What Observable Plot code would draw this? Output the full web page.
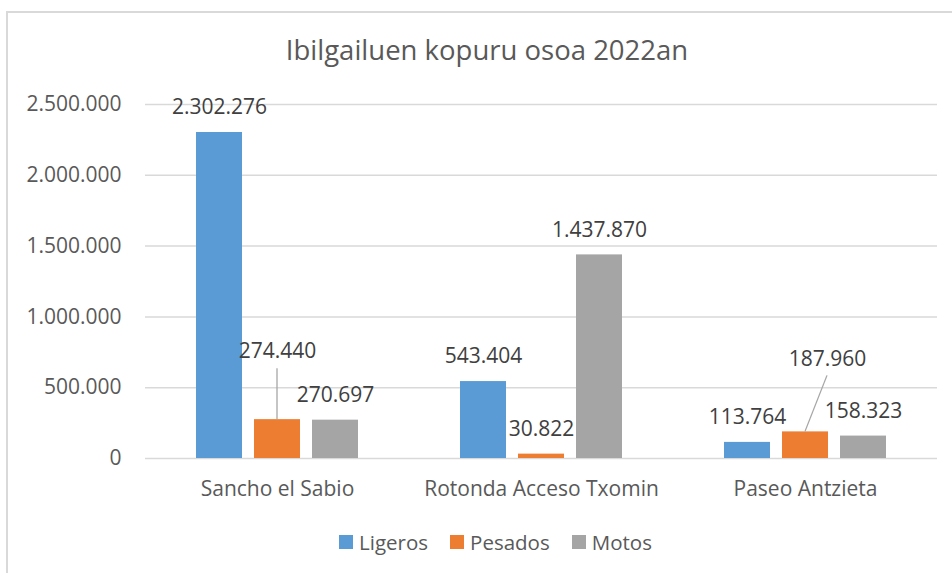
<!DOCTYPE html>
<html><head><meta charset="utf-8">
<script src="https://cdn.jsdelivr.net/npm/d3@7"></script>
<script src="https://cdn.jsdelivr.net/npm/@observablehq/plot@0.6"></script>
<style>
body{margin:0;background:#fff;font-family:"Open Sans",sans-serif;}
#wrap{position:relative;width:952px;height:573px;overflow:hidden;background:#fff;}
#frame{position:absolute;left:6px;top:11px;width:2000px;height:2000px;border-left:2px solid #d9d9d9;border-top:2px solid #d9d9d9;box-sizing:border-box;}
#chart{position:absolute;left:0;top:0;}
#title{position:absolute;left:0;width:974px;top:34px;line-height:32px;text-align:center;font-size:27.5px;color:#595959;}
#legend{position:absolute;left:0;width:991px;top:531px;line-height:22px;display:flex;justify-content:center;gap:22px;font-size:20.5px;color:#595959;}
.item{display:flex;align-items:center;gap:6px;}
.sw{width:14px;height:14px;display:inline-block;}
</style></head>
<body>
<div id="wrap">
  <div id="frame"></div>
  <div id="chart"></div>
  <div id="title"></div>
  <div id="legend"></div>
</div>
<script>
const title = "Ibilgailuen kopuru osoa 2022an";
const categories = ["Sancho el Sabio", "Rotonda Acceso Txomin", "Paseo Antzieta"];
const series = ["Ligeros", "Pesados", "Motos"];
const ligeros = [2302276, 543404, 113764];
const pesados = [274440, 30822, 187960];
const motos = [270697, 1437870, 158323];
const colors = ["#5B9BD5", "#ED7D31", "#A5A5A5"];
const yTicks = [0, 500000, 1000000, 1500000, 2000000, 2500000];
// labels moved away from their default place (pixel nudges), drawn with a leader line
const labelNudges = [
  {category: "Sancho el Sabio", series: "Pesados", dx: 0, dy: -43},
  {category: "Paseo Antzieta", series: "Pesados", dx: 22, dy: -48}
];

const values = [ligeros, pesados, motos];
const rows = [];
categories.forEach((c, ci) => series.forEach((s, si) => rows.push({category: c, series: s, value: values[si][ci]})));
const nudgeOf = r => labelNudges.find(n => n.category === r.category && n.series === r.series);

const loc = d3.formatLocale({decimal: ",", thousands: ".", grouping: [3], currency: ["", ""]});
const fmt = loc.format(",d");

const plainRows = rows.filter(r => !nudgeOf(r));
const nudgedRows = rows.filter(r => nudgeOf(r));

const labelFont = {fontSize: 21, fill: "#404040", textAnchor: "middle", lineAnchor: "middle"};

const marks = [
  Plot.ruleY(yTicks, {y: d => d, stroke: "#d9d9d9", strokeWidth: 1.5}),
  Plot.barY(rows, {fx: "category", x: "series", y: "value", fill: "series"}),
  Plot.text(plainRows, {fx: "category", x: "series", y: "value", text: d => fmt(d.value), dy: -25, ...labelFont}),
  ...nudgedRows.map(r => {
    const n = nudgeOf(r);
    return Plot.text([r], {fx: "category", x: "series", y: "value", text: d => fmt(d.value), dx: n.dx, dy: -25 + n.dy, ...labelFont});
  }),
  Plot.dot(nudgedRows, {
    fx: "category", x: "series", y: "value", r: 1,
    render(index, scales, vals) {
      const g = d3.create("svg:g");
      const off = scales.x && scales.x.bandwidth ? scales.x.bandwidth() / 2 : 0;
      for (const i of index) {
        const n = nudgeOf(nudgedRows[i]);
        const x0 = vals.x[i] + off, y0 = vals.y[i];
        g.append("line")
          .attr("x1", x0).attr("y1", y0)
          .attr("x2", x0 + n.dx).attr("y2", y0 - 25 + n.dy + 17)
          .attr("stroke", "#a6a6a6").attr("stroke-width", 1.3);
      }
      return g.node();
    }
  })
];

const chart = Plot.plot({
  width: 952,
  height: 573,
  marginLeft: 145,
  marginRight: 15,
  marginTop: 104,
  marginBottom: 115,
  style: {fontFamily: "Open Sans, sans-serif", fontSize: "21px", color: "#595959", background: "transparent", overflow: "visible"},
  fx: {domain: categories, padding: 0, axis: "bottom", tickSize: 0, tickPadding: 23, label: null},
  x: {domain: series, paddingInner: 0.2137, paddingOuter: 0.863, axis: null},
  y: {domain: [0, 2500000], ticks: yTicks, tickFormat: fmt, tickSize: 0, tickPadding: 24, label: null},
  color: {domain: series, range: colors},
  marks
});
document.getElementById("chart").appendChild(chart);
document.getElementById("title").textContent = title;

const legend = document.getElementById("legend");
series.forEach((s, i) => {
  const it = document.createElement("div");
  it.className = "item";
  const sw = document.createElement("span");
  sw.className = "sw";
  sw.style.background = colors[i];
  const t = document.createElement("span");
  t.textContent = s;
  it.appendChild(sw); it.appendChild(t);
  legend.appendChild(it);
});
</script>
</body></html>
